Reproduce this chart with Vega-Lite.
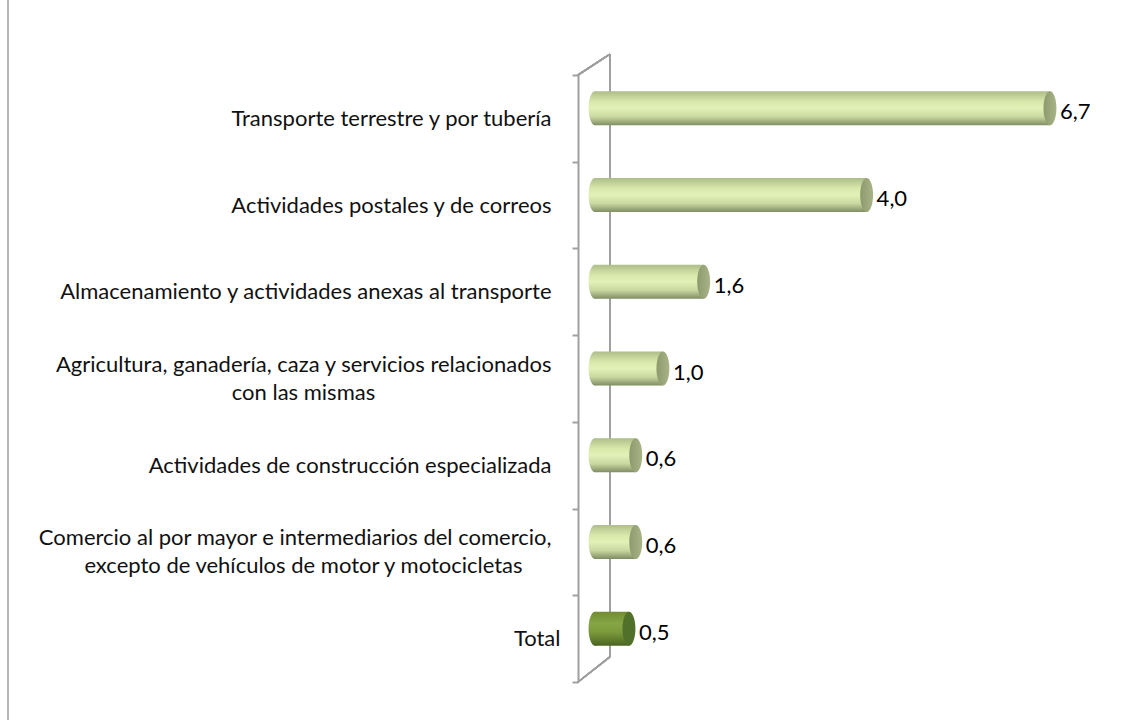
{
  "$schema": "https://vega.github.io/schema/vega-lite/v6.json",
  "width": 522,
  "height": 607,
  "autosize": {"type": "none"},
  "padding": {"left": 578, "top": 75, "right": 23, "bottom": 38},
  "background": "#ffffff",
  "config": {
    "view": {"stroke": null},
    "font": "Lato",
    "locale": {"number": {"decimal": ",", "thousands": ".", "grouping": [3], "currency": ["", "€"]}}
  },
  "data": {
    "values": [
      {"cat": "Transporte terrestre y por tubería", "line2": "", "value": 6.7, "total": false},
      {"cat": "Actividades postales y de correos", "line2": "", "value": 4.0, "total": false},
      {"cat": "Almacenamiento y actividades anexas al transporte", "line2": "", "value": 1.6, "total": false},
      {"cat": "Agricultura, ganadería, caza y servicios relacionados|con las mismas", "line2": "con las mismas", "value": 1.0, "total": false},
      {"cat": "Actividades de construcción especializada", "line2": "", "value": 0.6, "total": false},
      {"cat": "Comercio al por mayor e intermediarios del comercio,|excepto de vehículos de motor y motocicletas", "line2": "excepto de vehículos de motor y motocicletas", "value": 0.6, "total": false},
      {"cat": "Total", "line2": "", "value": 0.5, "total": true}
    ]
  },
  "layer": [
    {
      "layer": [
        {
          "mark": {"type": "rule", "color": "#a0a0a0", "strokeWidth": 1.5},
          "encoding": {
            "x": {"datum": 0.22, "type": "quantitative", "scale": {"domain": [-0.2504, 7.437], "nice": false, "zero": false}, "axis": null},
            "y": {"datum": 0.29, "type": "quantitative", "scale": {"domain": [0, 7], "nice": false, "zero": false}, "axis": null},
            "y2": {"datum": 7.24}
          }
        },
        {
          "mark": {"type": "rule", "color": "#a0a0a0", "strokeWidth": 1.5},
          "encoding": {
            "x": {"datum": -0.2504, "type": "quantitative", "scale": {"domain": [-0.2504, 7.437], "nice": false, "zero": false}, "axis": null},
            "x2": {"datum": 0.22},
            "y": {"datum": 7, "type": "quantitative", "scale": {"domain": [0, 7], "nice": false, "zero": false}, "axis": null},
            "y2": {"datum": 7.24}
          }
        },
        {
          "mark": {"type": "rule", "color": "#a0a0a0", "strokeWidth": 1.5},
          "encoding": {
            "x": {"datum": -0.2504, "type": "quantitative", "scale": {"domain": [-0.2504, 7.437], "nice": false, "zero": false}, "axis": null},
            "x2": {"datum": 0.22},
            "y": {"datum": 0, "type": "quantitative", "scale": {"domain": [0, 7], "nice": false, "zero": false}, "axis": null},
            "y2": {"datum": 0.29}
          }
        },
        {
          "mark": {"type": "rule", "color": "#b8b8b8", "strokeWidth": 1},
          "encoding": {
            "x": {"datum": -8.645, "type": "quantitative", "scale": {"domain": [-0.2504, 7.437], "nice": false, "zero": false}, "axis": null},
            "y": {"datum": -0.45, "type": "quantitative", "scale": {"domain": [0, 7], "nice": false, "zero": false}, "axis": null},
            "y2": {"datum": 7.9}
          }
        }
      ]
    },
    {
      "encoding": {
        "y": {
          "field": "cat",
          "type": "nominal",
          "sort": null,
          "scale": {"paddingInner": 0, "paddingOuter": 0},
          "axis": {
            "title": null,
            "labelExpr": "split(datum.label, '|')[0]",
            "labelFontSize": 22,
            "labelColor": "#111111",
            "labelFont": "Lato",
            "labelLimit": 0,
            "labelPadding": {"condition": {"test": "datum.label == 'Total'", "value": 12}, "value": 21},
            "labelOffset": {"condition": {"test": "indexof(datum.label, '|') >= 0", "value": -14.5}, "value": 0},
            "domainColor": "#a0a0a0",
            "domainWidth": 2,
            "tickColor": "#a0a0a0",
            "tickWidth": 2,
            "tickSize": 6,
            "tickBand": "extent",
            "grid": false
          }
        }
      },
      "layer": [
        {
          "mark": {"type": "bar", "size": 34, "yOffset": -10},
          "encoding": {
            "x": {"field": "value", "type": "quantitative", "scale": {"domain": [-0.2504, 7.437], "nice": false, "zero": false}, "axis": null},
            "x2": {"datum": 0},
            "color": {
              "condition": {
                "test": "datum.total",
                "value": {"gradient": "linear", "x1": 0, "y1": 0, "x2": 0, "y2": 1, "stops": [
                  {"offset": 0, "color": "#6f8c35"},
                  {"offset": 0.35, "color": "#86a544"},
                  {"offset": 0.6, "color": "#7d9b3d"},
                  {"offset": 1, "color": "#4a6420"}
                ]}
              },
              "value": {"gradient": "linear", "x1": 0, "y1": 0, "x2": 0, "y2": 1, "stops": [
                {"offset": 0, "color": "#aebd8a"},
                {"offset": 0.3, "color": "#d8e8aa"},
                {"offset": 0.5, "color": "#e2f1b7"},
                {"offset": 0.75, "color": "#c9d8a0"},
                {"offset": 1, "color": "#7f8d63"}
              ]}
            }
          }
        },
        {
          "mark": {"type": "point", "filled": true, "size": 1156, "yOffset": -10, "opacity": 1, "shape": "M0,-1 A0.38,1 0 1,1 0,1 A0.38,1 0 1,1 0,-1 Z"},
          "encoding": {
            "x": {"datum": 0, "type": "quantitative", "scale": {"domain": [-0.2504, 7.437], "nice": false, "zero": false}, "axis": null},
            "color": {
              "condition": {
                "test": "datum.total",
                "value": {"gradient": "linear", "x1": 0, "y1": 0, "x2": 0, "y2": 1, "stops": [
                  {"offset": 0, "color": "#6f8c35"},
                  {"offset": 0.35, "color": "#86a544"},
                  {"offset": 0.6, "color": "#7d9b3d"},
                  {"offset": 1, "color": "#4a6420"}
                ]}
              },
              "value": {"gradient": "linear", "x1": 0, "y1": 0, "x2": 0, "y2": 1, "stops": [
                {"offset": 0, "color": "#aebd8a"},
                {"offset": 0.3, "color": "#d8e8aa"},
                {"offset": 0.5, "color": "#e2f1b7"},
                {"offset": 0.75, "color": "#c9d8a0"},
                {"offset": 1, "color": "#7f8d63"}
              ]}
            }
          }
        },
        {
          "mark": {"type": "point", "filled": true, "size": 1156, "yOffset": -10, "opacity": 1, "shape": "M0,-1 A0.38,1 0 1,1 0,1 A0.38,1 0 1,1 0,-1 Z"},
          "encoding": {
            "x": {"field": "value", "type": "quantitative", "scale": {"domain": [-0.2504, 7.437], "nice": false, "zero": false}, "axis": null},
            "color": {
              "condition": {"test": "datum.total", "value": "#51702a"},
              "value": {"gradient": "linear", "x1": 0, "y1": 0, "x2": 1, "y2": 0, "stops": [
                {"offset": 0, "color": "#8e9a6e"},
                {"offset": 1, "color": "#a8b486"}
              ]}
            }
          }
        },
        {
          "mark": {"type": "text", "align": "left", "baseline": "middle", "dx": 10, "yOffset": -6, "fontSize": 22, "color": "#000000", "font": "Lato"},
          "encoding": {
            "x": {"field": "value", "type": "quantitative", "scale": {"domain": [-0.2504, 7.437], "nice": false, "zero": false}, "axis": null},
            "text": {"field": "value", "type": "quantitative", "format": ".1f"}
          }
        },
        {
          "transform": [{"filter": "datum.line2 != ''"}],
          "mark": {"type": "text", "align": "center", "baseline": "middle", "yOffset": 14.5, "fontSize": 22, "color": "#111111", "font": "Lato"},
          "encoding": {
            "x": {"datum": -4.293, "type": "quantitative", "scale": {"domain": [-0.2504, 7.437], "nice": false, "zero": false}, "axis": null},
            "text": {"field": "line2", "type": "nominal"}
          }
        }
      ]
    }
  ],
  "resolve": {"scale": {"y": "independent"}, "axis": {"y": "independent"}}
}
